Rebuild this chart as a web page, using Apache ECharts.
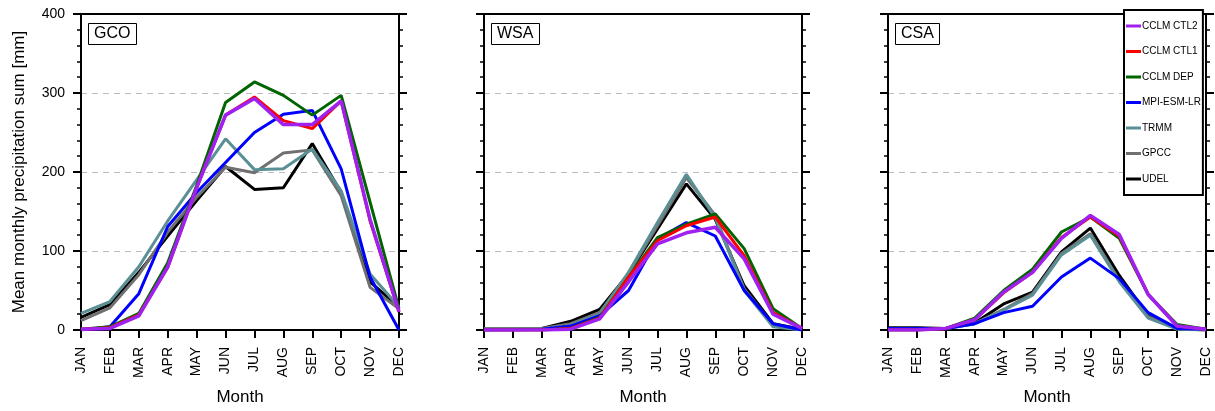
<!DOCTYPE html>
<html>
<head>
<meta charset="utf-8">
<script src="https://cdn.jsdelivr.net/npm/echarts@6/dist/echarts.min.js"></script>
<style>
html,body{margin:0;padding:0;background:#fff;}
#chart{width:1215px;height:411px;}
</style>
</head>
<body>
<div id="chart"></div>
<script>
const months = ['JAN','FEB','MAR','APR','MAY','JUN','JUL','AUG','SEP','OCT','NOV','DEC'];
const yTicks = [0, 100, 200, 300, 400];
const regions = ['GCO', 'WSA', 'CSA'];
const models = ['CCLM CTL2', 'CCLM CTL1', 'CCLM DEP', 'MPI-ESM-LR', 'TRMM', 'GPCC', 'UDEL'];

// GCO
const GCO_CTL2 = [1, 2, 18, 80, 180, 272, 293, 260, 260, 290, 140, 23];
const GCO_CTL1 = [1, 3, 19, 79, 180, 272, 295, 265, 255, 290, 138, 23];
const GCO_DEP  = [1, 4, 21, 85, 183, 288, 314, 297, 272, 297, 162, 27];
const GCO_MPI  = [0, 4, 46, 131, 174, 212, 250, 273, 278, 204, 67, 0];
const GCO_TRMM = [21, 36, 80, 138, 190, 242, 203, 204, 229, 176, 71, 29];
const GCO_GPCC = [12, 28, 70, 124, 168, 206, 199, 224, 228, 170, 54, 27];
const GCO_UDEL = [16, 32, 73, 119, 164, 207, 178, 180, 236, 174, 61, 29];
// WSA
const WSA_CTL2 = [0, 0, 0, 1, 14, 61, 109, 123, 130, 90, 20, 2];
const WSA_CTL1 = [0, 0, 0, 2, 15, 67, 113, 132, 143, 94, 22, 2];
const WSA_DEP  = [0, 0, 0, 2, 16, 67, 117, 134, 147, 103, 27, 2];
const WSA_MPI  = [0, 0, 1, 5, 18, 50, 115, 136, 119, 50, 8, 0];
const WSA_TRMM = [1, 1, 1, 6, 20, 73, 136, 197, 142, 50, 4, 0];
const WSA_GPCC = [2, 2, 2, 8, 22, 72, 132, 193, 145, 52, 6, 1];
const WSA_UDEL = [2, 2, 2, 11, 26, 71, 128, 185, 140, 56, 8, 1];
// CSA
const CSA_CTL2 = [0, 0, 2, 13, 48, 73, 116, 145, 121, 45, 5, 1];
const CSA_CTL1 = [0, 0, 2, 13, 47, 73, 117, 143, 119, 45, 5, 1];
const CSA_DEP  = [0, 0, 2, 15, 50, 77, 124, 143, 116, 45, 7, 1];
const CSA_MPI  = [2, 2, 2, 8, 22, 30, 67, 91, 65, 22, 2, 1];
const CSA_TRMM = [1, 1, 2, 8, 25, 44, 95, 120, 61, 15, 1, 0];
const CSA_GPCC = [2, 2, 2, 8, 26, 46, 97, 122, 63, 17, 2, 0];
const CSA_UDEL = [3, 3, 2, 9, 33, 48, 99, 129, 69, 18, 2, 0];

const regionData = [
  [GCO_CTL2, GCO_CTL1, GCO_DEP, GCO_MPI, GCO_TRMM, GCO_GPCC, GCO_UDEL],
  [WSA_CTL2, WSA_CTL1, WSA_DEP, WSA_MPI, WSA_TRMM, WSA_GPCC, WSA_UDEL],
  [CSA_CTL2, CSA_CTL1, CSA_DEP, CSA_MPI, CSA_TRMM, CSA_GPCC, CSA_UDEL]
];
const colors = ['#A020F0', '#FF0000', '#006400', '#0000FF', '#5A8F96', '#707070', '#000000'];
const widths = [3.5, 3, 3, 3, 3, 3, 3];

const FONT = 'Liberation Sans, Arial, Helvetica, sans-serif';
const gridLefts = [81, 484, 888];
const gridW = 318;

const grids = [], xAxes = [], yAxes = [], series = [], titles = [];
regions.forEach((r, i) => {
  grids.push({left: gridLefts[i], width: gridW, top: 14, bottom: 80, containLabel: false});
  xAxes.push({
    gridIndex: i, type: 'category', data: months, boundaryGap: false, position: 'bottom',
    axisLine: {show: true, onZero: false, lineStyle: {color: '#000', width: 2}},
    axisTick: {show: true, inside: false, length: 8, interval: 0, lineStyle: {color: '#000', width: 2}},
    axisLabel: {show: true, interval: 0, rotate: 90, fontSize: 14, margin: 17, color: '#000', fontFamily: FONT},
    splitLine: {show: false},
    name: 'Month', nameLocation: 'middle', nameGap: 59,
    nameTextStyle: {fontSize: 17, color: '#000', fontFamily: FONT}
  });
  xAxes.push({
    gridIndex: i, type: 'category', data: months, boundaryGap: false, position: 'top',
    axisLine: {show: true, onZero: false, lineStyle: {color: '#000', width: 2}},
    axisTick: {show: false}, axisLabel: {show: false}, splitLine: {show: false}
  });
  const yBase = {
    gridIndex: i, type: 'value', min: yTicks[0], max: yTicks[yTicks.length - 1], interval: 100,
    axisLine: {show: true, onZero: false, lineStyle: {color: '#000', width: 2}},
    axisTick: {show: true, inside: false, length: 8, lineStyle: {color: '#000', width: 2}},
    minorTick: {show: true, splitNumber: 5, length: 4, lineStyle: {color: '#000', width: 1.5}}
  };
  yAxes.push(Object.assign({}, yBase, {
    position: 'left',
    axisLabel: {show: i === 0, fontSize: 14, margin: 16, color: '#000', fontFamily: FONT},
    splitLine: {show: true, lineStyle: {color: '#bdbdbd', type: [6, 5], width: 1}},
    name: i === 0 ? 'Mean monthly precipitation sum [mm]' : '',
    nameLocation: 'middle', nameGap: 53,
    nameTextStyle: {fontSize: 17, color: '#000', fontFamily: FONT}
  }));
  yAxes.push(Object.assign({}, yBase, {
    position: 'right', axisLabel: {show: false}, splitLine: {show: false}
  }));
  titles.push({
    text: r, left: gridLefts[i] + 7, top: 23, padding: [3, 6],
    borderColor: '#000', borderWidth: 1, backgroundColor: '#fff',
    textStyle: {fontSize: 16, fontWeight: 'normal', color: '#000', fontFamily: FONT}
  });
  // draw order: observations first, CTL2 last (on top)
  for (let m = models.length - 1; m >= 0; m--) {
    series.push({
      name: models[m], type: 'line', xAxisIndex: 2 * i, yAxisIndex: 2 * i,
      data: regionData[i][m], symbol: 'none', showSymbol: false,
      lineStyle: {color: colors[m], width: widths[m]}, itemStyle: {color: colors[m]},
      emphasis: {disabled: true}, z: 2
    });
  }
});

const chart = echarts.init(document.getElementById('chart'), null, {renderer: 'canvas'});
chart.setOption({
  animation: false,
  backgroundColor: '#fff',
  title: titles,
  grid: grids,
  xAxis: xAxes,
  yAxis: yAxes,
  legend: {
    orient: 'vertical', left: 1124, top: 10, data: models, selectedMode: false,
    icon: 'rect', itemWidth: 15, itemHeight: 3, itemGap: 13.5,
    textStyle: {fontSize: 10, color: '#000', fontFamily: FONT, lineHeight: 12, padding: [0, 0, 0, -4]},
    padding: [10, 2, 10, 2], borderColor: '#000', borderWidth: 2, backgroundColor: '#fff'
  },
  series: series
});
</script>
</body>
</html>
